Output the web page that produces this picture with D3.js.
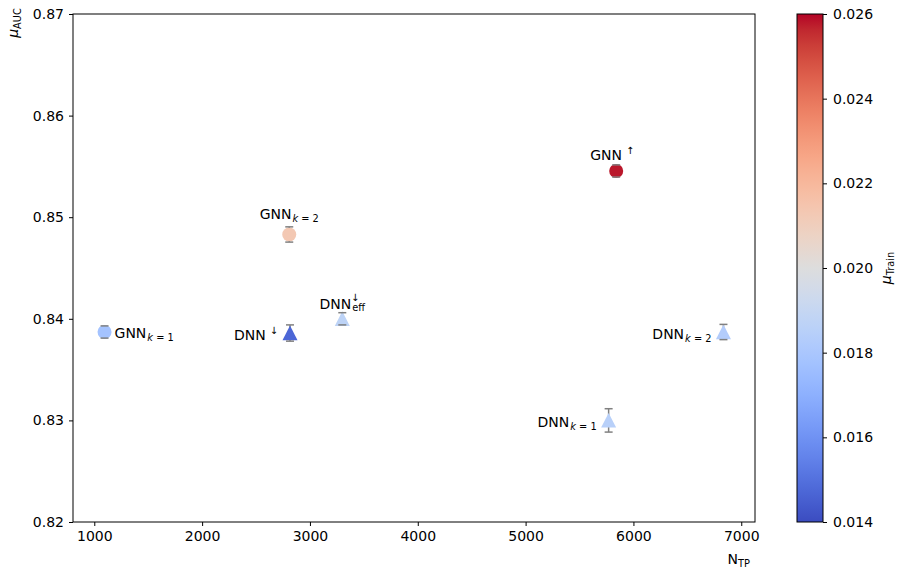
<!DOCTYPE html>
<html><head><meta charset="utf-8">
<script src="https://cdn.jsdelivr.net/npm/d3@7"></script>
<style>
body{margin:0;background:#fff;}
svg{display:block;font-family:"DejaVu Sans",sans-serif;}
</style></head>
<body>
<svg id="chart" width="897" height="568"></svg>
<script>
// ---- data ----
const modelBase = ["GNN", "GNN", "GNN", "DNN", "DNN", "DNN", "DNN"];
const modelSub  = ["k = 1", "k = 2", "", "", "eff", "k = 1", "k = 2"];
const modelSup  = ["", "", "\u2191", "\u2193", "\u2193", "", ""];
const markerType = ["circle", "circle", "circle", "triangle", "triangle", "triangle", "triangle"];
const labelSide = ["right", "above", "above", "left", "above", "left", "left"];
const nTP     = [1095, 2808, 5840, 2815, 3300, 5770, 6835];
const muAUC   = [0.8387, 0.8483, 0.85455, 0.8386, 0.8400, 0.8300, 0.8387];
const errAUC  = [0.0006, 0.00075, 0.0006, 0.0008, 0.0006, 0.00115, 0.00075];
const muTrain = [0.0178, 0.0213, 0.0258, 0.0147, 0.0187, 0.0185, 0.0183];
const xTicks = [1000, 2000, 3000, 4000, 5000, 6000, 7000];
const yTicks = [0.82, 0.83, 0.84, 0.85, 0.86, 0.87];
const cTicks = [0.014, 0.016, 0.018, 0.020, 0.022, 0.024, 0.026];
// coolwarm colormap stops (RGB)
const coolwarmStops = [
 [59,76,192],[68,90,204],[77,104,215],[87,117,225],[98,130,234],[108,142,241],[119,154,247],[130,165,251],
 [141,176,254],[152,185,255],[163,194,255],[174,201,253],[184,208,249],[194,213,244],[204,217,238],[213,219,230],
 [221,221,221],[229,216,209],[236,211,197],[241,204,185],[245,196,173],[247,187,160],[247,177,148],[247,166,135],
 [244,154,123],[241,141,111],[236,127,99],[229,112,88],[222,96,77],[213,80,66],[203,62,56],[192,40,47],[180,4,38]
];

// ---- layout ----
const svg = d3.select("#chart");
const L = 73, R = 755, T = 14, B = 522;
const x = d3.scaleLinear().domain([802.5, 7127.5]).range([L, R]);
const y = d3.scaleLinear().domain([0.82, 0.87]).range([B, T]);
const coolwarm = d3.scaleLinear()
  .domain(coolwarmStops.map((d, i) => i / (coolwarmStops.length - 1)))
  .range(coolwarmStops.map(c => d3.rgb(c[0], c[1], c[2])))
  .interpolate(d3.interpolateRgb).clamp(true);
const cNorm = d3.scaleLinear().domain([0.014, 0.026]).range([0, 1]);
const color = v => coolwarm(cNorm(v));

const FS = 14;

// axes
const xAxis = d3.axisBottom(x).tickValues(xTicks).tickSize(4).tickPadding(5).tickFormat(d3.format("d"));
const yAxis = d3.axisLeft(y).tickValues(yTicks).tickSize(4).tickPadding(5).tickFormat(d3.format(".2f"));
const gx = svg.append("g").attr("transform", `translate(0,${B})`).call(xAxis);
const gy = svg.append("g").attr("transform", `translate(${L},0)`).call(yAxis);
[gx, gy].forEach(g => {
  g.select(".domain").remove();
  g.selectAll("text").attr("font-size", FS).attr("font-family", "DejaVu Sans").attr("fill", "#000");
  g.selectAll("line").attr("stroke", "#000").attr("stroke-width", 1);
});
svg.append("rect").attr("x", L).attr("y", T).attr("width", R - L).attr("height", B - T)
  .attr("fill", "none").attr("stroke", "#000").attr("stroke-width", 1);

// axis labels
const yl = svg.append("text").attr("transform", `translate(18,${T + 9}) rotate(-90)`)
  .attr("text-anchor", "middle").attr("font-size", FS);
yl.append("tspan").attr("font-style", "italic").text("\u03bc");
yl.append("tspan").attr("font-size", FS * 0.7).attr("dy", 3).text("AUC");

const xl = svg.append("text").attr("x", R - 5).attr("y", 564).attr("text-anchor", "end").attr("font-size", FS);
xl.append("tspan").text("N");
xl.append("tspan").attr("font-size", FS * 0.7).attr("dy", 3).text("TP");

// points
const pts = svg.append("g");
const idx = d3.range(nTP.length);
const capW = 8;
idx.forEach(i => {
  const cx = x(nTP[i]), cy = y(muAUC[i]);
  const y0 = y(muAUC[i] - errAUC[i]), y1 = y(muAUC[i] + errAUC[i]);
  const g = pts.append("g");
  g.append("line").attr("x1", cx).attr("x2", cx).attr("y1", y0).attr("y2", y1)
    .attr("stroke", "#808080").attr("stroke-width", 1.5);
  if (markerType[i] === "circle") {
    g.append("circle").attr("cx", cx).attr("cy", cy).attr("r", 7).attr("fill", color(muTrain[i]));
  } else {
    const s = 7.5;
    g.append("path").attr("d", `M${cx},${cy - s}L${cx + s},${cy + s * 0.95}L${cx - s},${cy + s * 0.95}Z`)
      .attr("fill", color(muTrain[i]));
  }
  [y0, y1].forEach(yy => g.append("line").attr("x1", cx - capW / 2).attr("x2", cx + capW / 2)
    .attr("y1", yy).attr("y2", yy).attr("stroke", "#808080").attr("stroke-width", 1.5));

  // label
  let tx = cx, ty = cy, anchor = "middle";
  if (labelSide[i] === "right") { tx = cx + 10; ty = cy + 6; anchor = "start"; }
  else if (labelSide[i] === "left") { tx = cx - 12; ty = cy + 6.5; anchor = "end"; }
  else { ty = modelSub[i] ? cy - (modelSup[i] ? 10 : 15) : cy - 11; tx = modelSup[i] && !modelSub[i] ? cx - 4 : cx; }
  const t = g.append("text").attr("x", tx).attr("y", ty).attr("text-anchor", anchor).attr("font-size", FS);
  t.append("tspan").text(modelBase[i]);
  if (modelSub[i] && modelSup[i]) {
    t.append("tspan").attr("font-size", FS * 0.7).attr("dy", 2.5).attr("dx", 1).text(modelSub[i]);
    // superscript stacked over subscript
    const bb = t.node().getBBox();
    g.append("text").attr("x", bb.x + bb.width - FS * 0.7 * 1.05).attr("y", ty - 8)
      .attr("text-anchor", "middle").attr("font-size", FS * 0.7).text(modelSup[i]);
  } else if (modelSub[i]) {
    const parts = modelSub[i].split(" ");
    const sub = t.append("tspan").attr("font-size", FS * 0.7).attr("dy", 3).attr("dx", 1);
    sub.append("tspan").attr("font-style", "italic").text(parts[0]);
    sub.append("tspan").text(" " + parts.slice(1).join(" "));
  } else if (modelSup[i]) {
    t.append("tspan").attr("font-size", FS * 0.7).attr("dy", -6).attr("dx", 4).text(modelSup[i]);
  }
});

// colorbar
const CL = 797, CR = 823;
const cy = d3.scaleLinear().domain([0.014, 0.026]).range([B, T]);
const defs = svg.append("defs");
const grad = defs.append("linearGradient").attr("id", "cw").attr("x1", 0).attr("x2", 0).attr("y1", 1).attr("y2", 0);
coolwarmStops.forEach((c, i) => grad.append("stop")
  .attr("offset", i / (coolwarmStops.length - 1)).attr("stop-color", d3.rgb(c[0], c[1], c[2])));
svg.append("rect").attr("x", CL).attr("y", T).attr("width", CR - CL).attr("height", B - T)
  .attr("fill", "url(#cw)").attr("stroke", "#000").attr("stroke-width", 1);
const cAxis = d3.axisRight(cy).tickValues(cTicks).tickSize(4).tickPadding(6).tickFormat(d3.format(".3f"));
const gc = svg.append("g").attr("transform", `translate(${CR},0)`).call(cAxis);
gc.select(".domain").remove();
gc.selectAll("text").attr("font-size", FS).attr("font-family", "DejaVu Sans").attr("fill", "#000");
gc.selectAll("line").attr("stroke", "#000");
const cl = svg.append("text").attr("transform", `translate(891,${(T + B) / 2}) rotate(-90)`)
  .attr("text-anchor", "middle").attr("font-size", FS);
cl.append("tspan").attr("font-style", "italic").text("\u03bc");
cl.append("tspan").attr("font-size", FS * 0.7).attr("dy", 3).text("Train");
</script>
</body></html>
